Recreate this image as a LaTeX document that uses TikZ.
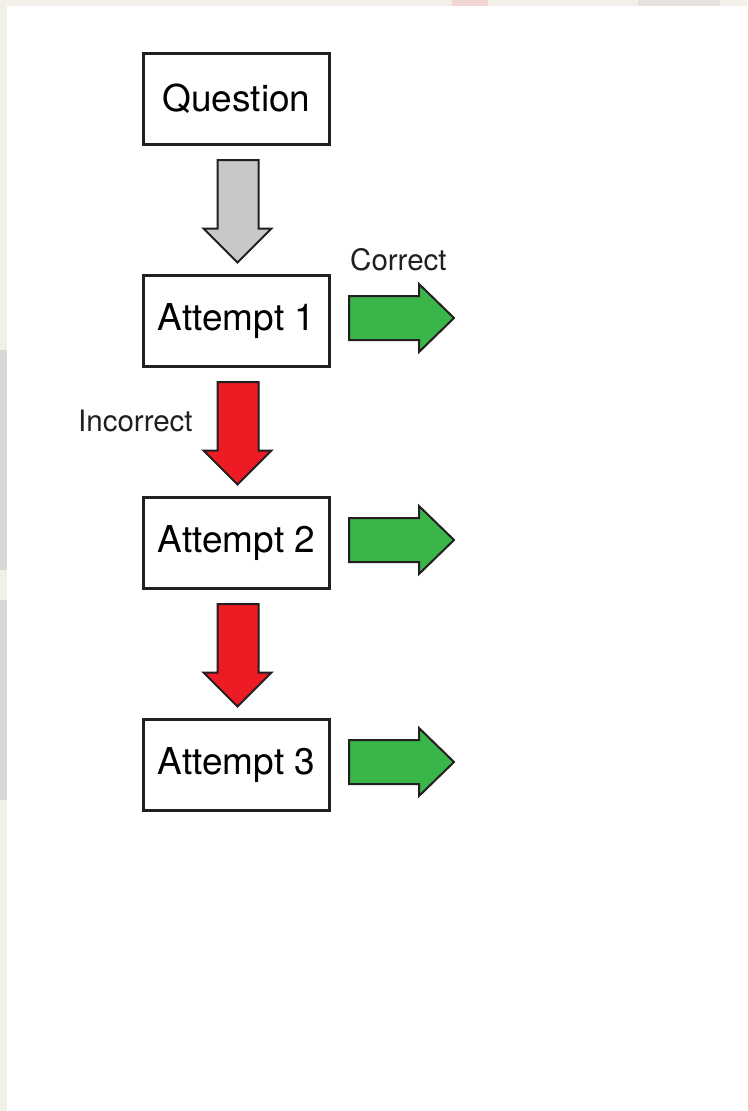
\documentclass[tikz,border=0pt]{standalone}
\usepackage{fontspec}
\setmainfont{TeX Gyre Heros}
\usetikzlibrary{calc}
\definecolor{ink}{HTML}{231F20}
\definecolor{grayfill}{HTML}{C7C8CA}
\definecolor{redfill}{HTML}{ED1C24}
\definecolor{greenfill}{HTML}{39B54A}
\definecolor{bgbeige}{HTML}{F2EEE8}
\definecolor{bgpink}{HTML}{EFD6D3}
\definecolor{bggray}{HTML}{E5E2DE}
\definecolor{bgside}{HTML}{D9D8D5}
\tikzset{
  stepbox/.style={draw=ink, line width=3pt, fill=white, minimum width=186pt, minimum height=91pt, inner sep=0pt, font=\fontsize{37}{42}\selectfont},
  lbl/.style={font=\fontsize{29.5}{34}\selectfont, inner sep=0pt, text=ink},
  blockarrow/.style={draw=ink, line width=2pt, line join=miter},
}
\begin{document}
\begin{tikzpicture}[x=1pt,y=-1pt]
% background
\fill[bgbeige] (0,0) rectangle (747,1111);
\fill[bgpink] (452,0) rectangle (488,6);
\fill[bggray] (638,0) rectangle (720,6);
\fill[bgside] (0,350) rectangle (7,570);
\fill[bgside] (0,600) rectangle (7,800);
\fill[white] (7,6) rectangle (747,1111);
\useasboundingbox (0,0) rectangle (747,1111);

% boxes
\node[stepbox] (q)  at (236.5,99)  {Question};
\node[stepbox] (a1) at (236.5,321) {Attempt 1};
\node[stepbox] (a2) at (236.5,543) {Attempt 2};
\node[stepbox] (a3) at (236.5,765) {Attempt 3};

% down block arrows: shaft half-width 21, head half-width 34, head length 34
\foreach \top/\bot/\col in {q/a1/grayfill, a1/a2/redfill, a2/a3/redfill}{
  \draw[blockarrow, fill=\col]
    let \p1=($(\top.south)+(1,14)$), \p2=($(\bot.north)+(1,-11.5)$) in
    (\x1-20,\y1) -- (\x1+21,\y1) -- (\x1+21,\y2+34) -- (\x1+34,\y2+34)
    -- (\x2,\y2) -- (\x1-34,\y2+34) -- (\x1-20,\y2+34) -- cycle;
}

% free ends of the green arrows
\coordinate (g1) at ($(a1.east)+(123,-3)$);
\coordinate (g2) at ($(a2.east)+(123,-3)$);
\coordinate (g3) at ($(a3.east)+(123,-3)$);

% right block arrows
\foreach \b/\g in {a1/g1, a2/g2, a3/g3}{
  \draw[blockarrow, fill=greenfill]
    let \p1=($(\b.east)+(18,-3)$), \p2=(\g) in
    (\x1,\y1-22) -- (\x2-35,\y1-22) -- (\x2-35,\y1-34) -- (\x2,\y2)
    -- (\x2-35,\y1+34) -- (\x2-35,\y1+22) -- (\x1,\y1+22) -- cycle;
}

% labels
\node[lbl, anchor=base west] (corr) at (350,270) {Correct};
\node[lbl, anchor=base west] (inc) at (78,431) {Incorrect};
\end{tikzpicture}
\end{document}
